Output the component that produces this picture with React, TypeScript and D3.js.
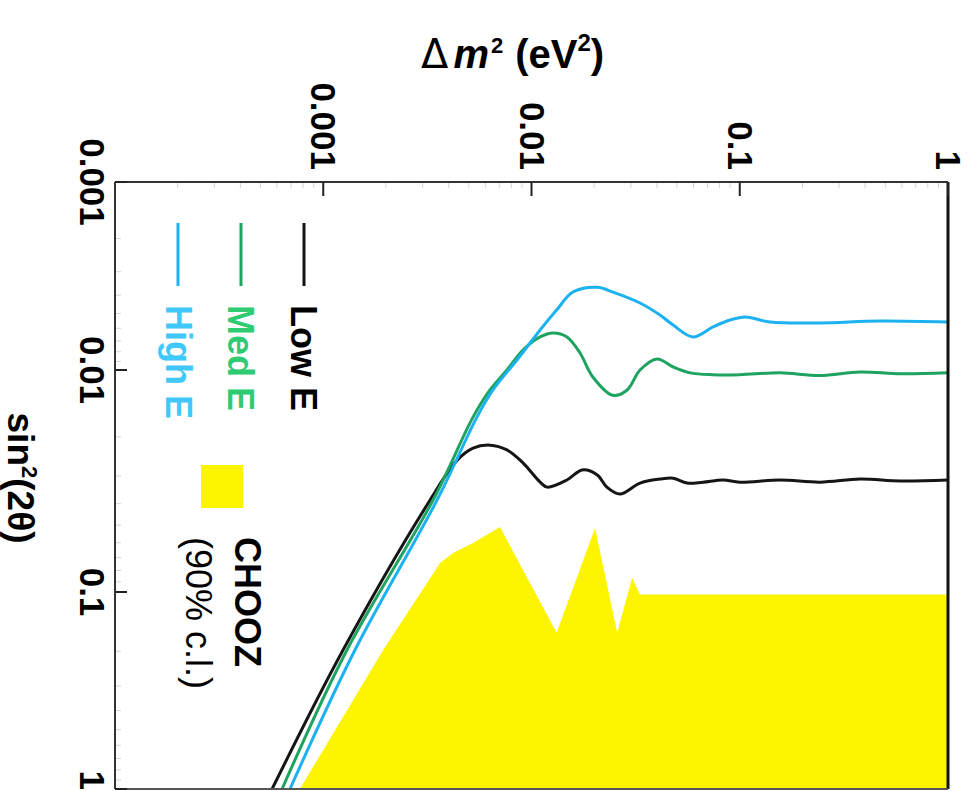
import React from "react";
import * as d3 from "d3";

// Δm² (eV²) axis, drawn across the top
const DM2_TICKS = [0.001, 0.01, 0.1, 1];
const DM2_TICK_LABELS = ["0.001", "0.01", "0.1", "1"];
// sin²(2θ) axis, drawn down the left side
const SIN_TICKS = [0.001, 0.01, 0.1, 1];
const SIN_TICK_LABELS = ["0.001", "0.01", "0.1", "1"];

// Sensitivity curves: Δm² values and matching sin²(2θ) limits
const LOW_E_DM2 = [5.68e-4, 1.245e-3, 3.26e-3, 4.38e-3, 5.24e-3, 6.32e-3, 7.62e-3, 9.1e-3, 1.1e-2, 1.19e-2, 1.48e-2, 1.75e-2, 2.07e-2, 2.3e-2, 2.66e-2, 3.32e-2, 4.14e-2, 4.79e-2, 5.58e-2, 6.66e-2, 8.32e-2, 0.1, 0.156, 0.243, 0.378, 0.589, 1];
const LOW_E_SIN = [1.0, 0.197, 0.0385, 0.0256, 0.0225, 0.0218, 0.0229, 0.0262, 0.032, 0.0337, 0.0313, 0.0282, 0.0297, 0.0337, 0.0362, 0.0323, 0.031, 0.0307, 0.0323, 0.032, 0.0313, 0.032, 0.0313, 0.032, 0.031, 0.0316, 0.0313];

const MED_E_DM2 = [6.34e-4, 1.3e-3, 3.37e-3, 5.24e-3, 6.32e-3, 7.62e-3, 9.1e-3, 1.1e-2, 1.27e-2, 1.48e-2, 1.71e-2, 1.97e-2, 2.46e-2, 2.88e-2, 3.32e-2, 4.01e-2, 4.79e-2, 5.77e-2, 7.44e-2, 0.1, 0.156, 0.243, 0.378, 0.589, 1];
const MED_E_SIN = [1.0, 0.197, 0.0385, 0.0163, 0.0123, 0.01, 0.00783, 0.00667, 0.00635, 0.00667, 0.00812, 0.01075, 0.013, 0.0123, 0.01, 0.00873, 0.00964, 0.0103, 0.0105, 0.0105, 0.0103, 0.0106, 0.0102, 0.0104, 0.0103];

const HIGH_E_DM2 = [6.92e-4, 1.42e-3, 3.52e-3, 5.47e-3, 6.53e-3, 8.51e-3, 1.1e-2, 1.32e-2, 1.58e-2, 2.07e-2, 2.46e-2, 3.32e-2, 4.14e-2, 4.79e-2, 5.97e-2, 7.44e-2, 8.98e-2, 0.106, 0.14, 0.243, 0.471, 1];
const HIGH_E_SIN = [1.0, 0.197, 0.0385, 0.0163, 0.0123, 0.00885, 0.00613, 0.0048, 0.00385, 0.00363, 0.00385, 0.0044, 0.0051, 0.00577, 0.00667, 0.0059, 0.00542, 0.00522, 0.00556, 0.00562, 0.00549, 0.00556];

// CHOOZ 90% c.l. exclusion boundary
const CHOOZ_DM2 = [7.72e-4, 1.94e-3, 3.64e-3, 4.2e-3, 5.24e-3, 7.06e-3, 1.32e-2, 2.02e-2, 2.58e-2, 3.04e-2, 3.32e-2, 1];
const CHOOZ_SIN = [1.0, 0.197, 0.074, 0.0667, 0.0602, 0.051, 0.161, 0.0515, 0.161, 0.0865, 0.103, 0.103];

const SERIES = [
  { name: "Low E", dm2: LOW_E_DM2, sin: LOW_E_SIN, line: "#151515", text: "#000000" },
  { name: "Med E", dm2: MED_E_DM2, sin: MED_E_SIN, line: "#1ea460", text: "#2ecb72" },
  { name: "High E", dm2: HIGH_E_DM2, sin: HIGH_E_SIN, line: "#1cb2f2", text: "#40c8fa" },
];

const W = 969;
const H = 791;
const LEFT = 115;
const RIGHT = 948;
const TOP = 182;
const BOTTOM = 789;

const FONT = "'Liberation Sans', Arial, Helvetica, sans-serif";

export default function App() {
  const x = d3.scaleLog().domain([1e-4, 1]).range([LEFT, RIGHT]);
  const y = d3
    .scaleLog()
    .domain([0.001, 0.01, 0.1, 1])
    .range([TOP, 370, 592, BOTTOM]);

  const line = d3
    .line<[number, number]>()
    .x((d) => x(d[0]))
    .y((d) => y(d[1]))
    .curve(d3.curveCatmullRom.alpha(0.5));

  const area = d3
    .area<[number, number]>()
    .x((d) => x(d[0]))
    .y0(y(1))
    .y1((d) => y(d[1]))
    .curve(d3.curveLinear);

  const choozPts: [number, number][] = CHOOZ_DM2.map((v, i) => [v, CHOOZ_SIN[i]]);

  const minorDm2: number[] = [];
  for (let e = -4; e < 0; e++) for (let k = 2; k <= 9; k++) minorDm2.push(k * Math.pow(10, e));
  const minorSin: number[] = [];
  for (let e = -3; e < 0; e++) for (let k = 2; k <= 9; k++) minorSin.push(k * Math.pow(10, e));

  const legendLineX = [304, 241, 178];
  const legendTextX = [291, 228, 166];

  return (
    <svg
      width={W}
      height={H}
      style={{ position: "absolute", left: 0, top: 0, background: "#fff" }}
      fontFamily={FONT}
    >
      <defs>
        <clipPath id="plot-clip">
          <rect x={LEFT} y={TOP} width={RIGHT - LEFT} height={BOTTOM - TOP} />
        </clipPath>
      </defs>
      <rect width={W} height={H} fill="#fff" />

      {/* CHOOZ excluded region */}
      <path d={area(choozPts) || ""} fill="#fdf500" clipPath="url(#plot-clip)" />

      {/* sensitivity curves */}
      <g clipPath="url(#plot-clip)">
        {SERIES.map((s) => (
          <path
            key={s.name}
            d={line(s.dm2.map((v, i) => [v, s.sin[i]] as [number, number])) || ""}
            fill="none"
            stroke={s.line}
            strokeWidth={3}
            strokeLinejoin="round"
          />
        ))}
      </g>

      {/* minor ticks */}
      {minorDm2.map((v) => (
        <line key={"mx" + v} x1={x(v)} x2={x(v)} y1={TOP} y2={TOP + 6} stroke="#d4d4d4" strokeWidth={1} />
      ))}
      {minorSin.map((v) => (
        <line key={"my" + v} x1={LEFT} x2={LEFT + 6} y1={y(v)} y2={y(v)} stroke="#d4d4d4" strokeWidth={1} />
      ))}

      {/* frame */}
      <line x1={LEFT} x2={RIGHT} y1={TOP} y2={TOP} stroke="#333" strokeWidth={2} />
      <line x1={LEFT} x2={LEFT} y1={TOP} y2={BOTTOM} stroke="#333" strokeWidth={2} />
      <line x1={RIGHT} x2={RIGHT} y1={TOP} y2={BOTTOM} stroke="#111" strokeWidth={3} />
      <line x1={LEFT} x2={RIGHT} y1={BOTTOM} y2={BOTTOM} stroke="#555" strokeWidth={2} />

      {/* major ticks and labels, Δm² */}
      {DM2_TICKS.map((v, i) => (
        <g key={"tx" + v}>
          <line x1={x(v)} x2={x(v)} y1={TOP} y2={TOP + 14} stroke="#222" strokeWidth={2} />
          <text
            transform={`translate(${x(v) - 12},170) rotate(90)`}
            textAnchor="end"
            fontSize={35}
            fontWeight="bold"
            fill="#000"
          >
            {DM2_TICK_LABELS[i]}
          </text>
        </g>
      ))}

      {/* major ticks and labels, sin²(2θ); the last one sits against the lower edge */}
      {SIN_TICKS.map((v, i) => {
        const last = i === SIN_TICKS.length - 1;
        return (
          <g key={"ty" + v}>
            <line x1={LEFT} x2={LEFT + 12} y1={y(v)} y2={y(v)} stroke="#222" strokeWidth={2} />
            <text
              transform={`translate(80,${last ? H - 1 : y(v)}) rotate(90)`}
              textAnchor={last ? "end" : "middle"}
              fontSize={35}
              fontWeight="bold"
              fill="#000"
            >
              {SIN_TICK_LABELS[i]}
            </text>
          </g>
        );
      })}

      {/* axis titles */}
      <text x={421} y={68} fontSize={40} fill="#000">
        <tspan fontFamily="'DejaVu Sans', sans-serif" fontWeight="normal">Δ</tspan>
        <tspan dx={5} fontWeight="bold" fontStyle="italic">m</tspan>
        <tspan dx={2} dy={-15} fontSize={22} fontWeight="bold">2</tspan>
        <tspan dx={12} dy={15} fontWeight="bold">(eV</tspan>
        <tspan dy={-17} fontSize={24} fontWeight="bold">2</tspan>
        <tspan dy={17} fontWeight="bold">)</tspan>
      </text>
      <text transform={`translate(8,478) rotate(90)`} textAnchor="middle" fontSize={37} fontWeight="bold" fill="#000">
        sin<tspan dy={-14} fontSize={22}>2</tspan>
        <tspan dy={14}>(2θ)</tspan>
      </text>

      {/* legend */}
      {SERIES.map((s, i) => (
        <g key={"lg" + s.name}>
          <line x1={legendLineX[i]} x2={legendLineX[i]} y1={223} y2={286} stroke={s.line} strokeWidth={3} />
          <text
            transform={`translate(${legendTextX[i]},305) rotate(90)`}
            fontSize={36}
            fontWeight="bold"
            fill={s.text}
          >
            {s.name}
          </text>
        </g>
      ))}
      <rect x={201} y={465} width={42} height={43} fill="#fdf500" />
      <text transform={`translate(235,537) rotate(90)`} fontSize={36} fontWeight="bold" fill="#000">
        CHOOZ
      </text>
      <text transform={`translate(186,537) rotate(90)`} fontSize={36} fill="#000">
        (90% c.l.)
      </text>
    </svg>
  );
}
